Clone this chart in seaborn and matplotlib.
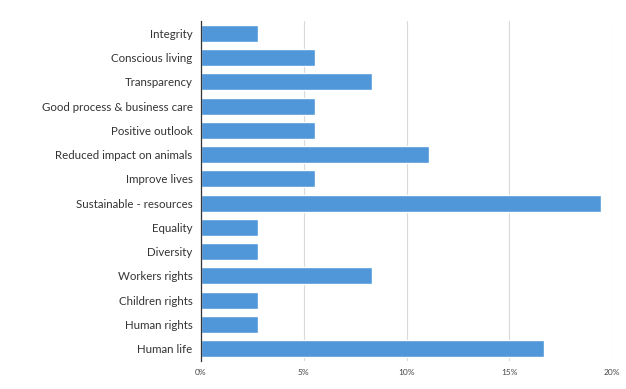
import matplotlib
matplotlib.use("Agg")
import matplotlib.pyplot as plt
import seaborn as sns
import pandas as pd

# values (percent of responses)
categories = ["Integrity", "Conscious living", "Transparency", "Good process & business care",
              "Positive outlook", "Reduced impact on animals", "Improve lives",
              "Sustainable - resources", "Equality", "Diversity", "Workers rights",
              "Children rights", "Human rights", "Human life"]
shares = [2.78, 5.56, 8.33, 5.56, 5.56, 11.11, 5.56, 19.44, 2.78, 2.78, 8.33, 2.78, 2.78, 16.67]
x_ticks = [0, 5, 10, 15, 20]

df = pd.DataFrame({"category": categories, "share": shares})

sns.set_style("white")
plt.rcParams["font.family"] = ["Lato", "DejaVu Sans"]

fig = plt.figure(figsize=(6.26, 3.89), dpi=100)
ax = fig.add_axes([0.321, 0.072, 0.657, 0.874])

sns.barplot(data=df, x="share", y="category", color="#4F97D9", saturation=1,
            width=0.7, ax=ax, zorder=3)

ax.set_xlim(0, 20)
ax.set_ylim(13.5, -0.5)
ax.set_xticks(x_ticks)
ax.set_xticklabels([f"{t}%" for t in x_ticks], fontsize=6, color="#444444")
ax.tick_params(axis="y", labelsize=8.3, colors="#333333", length=0, pad=6)
ax.tick_params(axis="x", length=0, pad=6)
ax.set_xlabel("")
ax.set_ylabel("")
ax.grid(axis="x", color="#d9d9d9", linewidth=0.8, zorder=0)
for side in ["top", "right", "bottom"]:
    ax.spines[side].set_visible(False)
ax.spines["left"].set_color("#333333")
ax.spines["left"].set_linewidth(0.9)
ax.spines["left"].set_zorder(4)

fig.savefig("out.png", dpi=100)
